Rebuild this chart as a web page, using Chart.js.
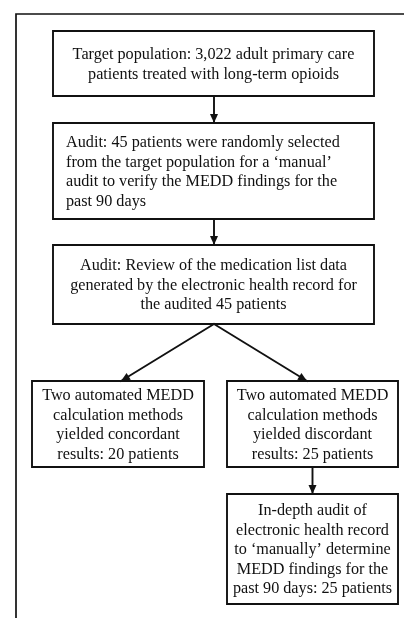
<!DOCTYPE html>
<html><head><meta charset="utf-8">
<script src="https://cdn.jsdelivr.net/npm/chart.js@4"></script>
<style>html,body{margin:0;padding:0;background:#fff}#wrap{width:404px;height:618px;position:relative}</style>
</head><body><div id="wrap"><canvas id="c"></canvas></div>
<script>
// ---- content (flowchart steps) ----
const nodeLabels = [
  ["Target population: 3,022 adult primary care","patients treated with long-term opioids"],
  ["Audit: 45 patients were randomly selected","from the target population for a \u2018manual\u2019","audit to verify the MEDD findings for the","past 90 days"],
  ["Audit: Review of the medication list data","generated by the electronic health record for","the audited 45 patients"],
  ["Two automated MEDD","calculation methods","yielded concordant","results: 20 patients"],
  ["Two automated MEDD","calculation methods","yielded discordant","results: 25 patients"],
  ["In-depth audit of","electronic health record","to \u2018manually\u2019 determine","MEDD findings for the","past 90 days: 25 patients"]
];
const nodeAlign = ["center","left","center","center","center","center"];
const edgesFrom = [0,1,2,2,4];
const edgesTo   = [1,2,3,4,5];

// ---- layout (separate from content), in scale units ----
const boxLeft   = [53, 53, 53, 32, 227, 227];
const boxRight  = [374,374,374,204,398, 398];
const boxTop    = [31, 123,245,381,381, 494];
const boxBottom = [96, 219,324,467,467, 604];
const edgeStartX = [214,214,214,214,312.5];
const edgeEndX   = [214,214,121,307,312.5];

const INK = '#111111';
const LW = 1.9;
const datasets = [];
// outer frame
datasets.push({data:[{x:16,y:618},{x:16,y:14},{x:404,y:14}],borderColor:INK,borderWidth:1.7,pointRadius:0,showLine:true,fill:false});
// boxes
for (let i=0;i<nodeLabels.length;i++){
  const l=boxLeft[i],r=boxRight[i],t=boxTop[i],b=boxBottom[i];
  datasets.push({data:[{x:l,y:t},{x:r,y:t},{x:r,y:b},{x:l,y:b},{x:l,y:t}],borderColor:INK,borderWidth:LW,pointRadius:0,showLine:true,fill:false});
}
// edges (shafts)
const HEAD=9, HALF=4;
for (let k=0;k<edgesFrom.length;k++){
  const x0=edgeStartX[k], y0=boxBottom[edgesFrom[k]], x1=edgeEndX[k], y1=boxTop[edgesTo[k]];
  datasets.push({data:[{x:x0,y:y0},{x:x1,y:y1}],borderColor:INK,borderWidth:LW,pointRadius:0,showLine:true,fill:false});
}

const decorations = {
  id:'decor',
  afterDatasetsDraw(chart){
    const ctx=chart.ctx, xs=chart.scales.x, ys=chart.scales.y;
    ctx.save();
    // arrowheads
    ctx.fillStyle=INK;
    for (let k=0;k<edgesFrom.length;k++){
      const px0=xs.getPixelForValue(edgeStartX[k]), py0=ys.getPixelForValue(boxBottom[edgesFrom[k]]);
      const px1=xs.getPixelForValue(edgeEndX[k]), py1=ys.getPixelForValue(boxTop[edgesTo[k]]);
      const a=Math.atan2(py1-py0,px1-px0);
      ctx.beginPath();
      ctx.moveTo(px1,py1);
      ctx.lineTo(px1-HEAD*Math.cos(a)+HALF*Math.sin(a), py1-HEAD*Math.sin(a)-HALF*Math.cos(a));
      ctx.lineTo(px1-HEAD*Math.cos(a)-HALF*Math.sin(a), py1-HEAD*Math.sin(a)+HALF*Math.cos(a));
      ctx.closePath(); ctx.fill();
    }
    // texts
    ctx.fillStyle='#111';
    ctx.font='16.2px "Liberation Serif","Times New Roman",serif';
    ctx.textBaseline='middle';
    const LH=19.5;
    for (let i=0;i<nodeLabels.length;i++){
      const lines=nodeLabels[i];
      const l=xs.getPixelForValue(boxLeft[i]), r=xs.getPixelForValue(boxRight[i]);
      const t=ys.getPixelForValue(boxTop[i]), b=ys.getPixelForValue(boxBottom[i]);
      const cy=(t+b)/2;
      const y0=cy-(lines.length-1)*LH/2;
      ctx.textAlign=nodeAlign[i];
      const tx = nodeAlign[i]==='left' ? l+13 : (l+r)/2;
      lines.forEach((s,j)=>ctx.fillText(s,tx,y0+j*LH+1));
    }
    ctx.restore();
  }
};

new Chart(document.getElementById('c'),{
  type:'scatter',
  data:{datasets},
  options:{
    responsive:true,maintainAspectRatio:false,animation:false,
    layout:{padding:0},
    plugins:{legend:{display:false},tooltip:{enabled:false}},
    elements:{line:{tension:0,borderCapStyle:'square'}},
    scales:{
      x:{type:'linear',min:0,max:404,display:false},
      y:{type:'linear',min:0,max:618,reverse:true,display:false}
    }
  },
  plugins:[decorations]
});
</script></body></html>
